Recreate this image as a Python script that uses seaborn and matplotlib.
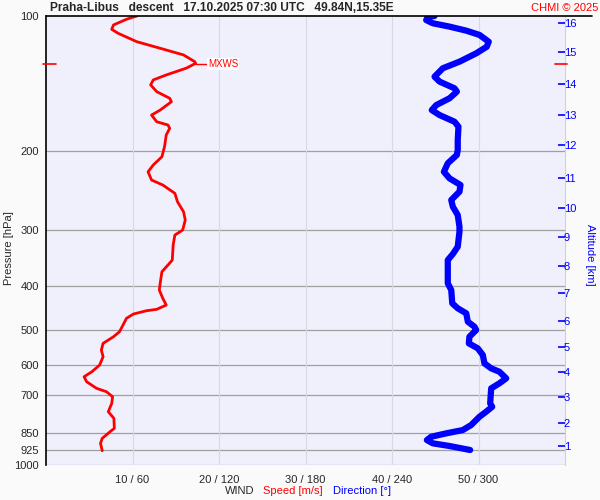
import numpy as np
import pandas as pd
import matplotlib
matplotlib.use("Agg")
import matplotlib.pyplot as plt
from matplotlib.lines import Line2D
from matplotlib.ticker import FixedLocator, FixedFormatter, NullLocator
import seaborn as sns

# datos del sondeo
speed_p = [100, 101.7, 104.7, 107.1, 109.3, 114.1, 118.0, 122.1, 126.4, 127.5,
           130.7, 135.3, 138.8, 142.4, 147.4, 152.5, 155.2, 162.0, 166.2, 172.0,
           174.9, 177.9, 184.1, 195.5, 205.8, 214.7, 222.3, 231.9, 237.9, 248.3,
           259.2, 272.9, 284.7, 299.7, 307.5, 323.6, 349.6, 358.6, 371.2, 393.9,
           407.7, 425.4, 440.3, 450.1, 453.4, 461.1, 471.4, 487.9, 504.9, 518.0,
           535.9, 554.6, 574.0, 598.9, 619.9, 636.0, 652.5, 675.0, 686.9, 704.7,
           729.0, 761.0, 787.2, 828.6, 843.2, 872.3, 894.9, 929.3]
speed = [10.5, 9.3, 7.8, 7.6, 8.35, 10.5, 13.2, 15.9, 17.2, 17.3,
         16.2, 13.9, 12.4, 12.1, 12.8, 14.3, 14.5, 13.2, 12.2, 12.8,
         14.1, 14.3, 13.9, 13.7, 13.4, 12.4, 11.8, 12.2, 13.5, 14.9,
         15.2, 15.9, 16.1, 15.8, 14.9, 14.7, 14.6, 14.1, 13.4, 13.2,
         13.1, 13.5, 13.9, 12.8, 11.6, 10.1, 9.3, 8.9, 8.5, 7.8,
         6.6, 6.4, 6.6, 6.2, 5.3, 4.4, 4.7, 5.85, 7.0, 7.7,
         7.6, 7.2, 7.85, 7.9, 7.4, 6.5, 6.3, 6.5]

dir_p = [100, 100.4, 102.1, 103.8, 105.6, 107.8, 110.2, 114.1, 117.1, 121.1,
         126.4, 130.7, 136.5, 140.0, 144.9, 147.4, 152.5, 157.9, 162.0, 166.2,
         172.0, 176.4, 188.9, 198.8, 203.9, 212.8, 222.3, 229.9, 237.9, 246.2,
         256.9, 265.9, 277.5, 294.6, 302.4, 326.4, 338.9, 349.6, 393.9, 407.7,
         436.4, 447.7, 459.4, 479.6, 492.1, 500.5, 518.0, 535.9, 549.8, 569.0,
         593.7, 609.3, 619.9, 641.2, 657.8, 675.0, 729.0, 741.8, 761.0, 780.6,
         814.7, 835.9, 850.2, 865.1, 879.9, 894.9, 907.2, 926.0]
direction = [269.5, 264.9, 263.7, 268.3, 279.9, 291.5, 300.7, 307.1, 305.7, 298.4,
             286.8, 275.3, 269.5, 273.0, 283.4, 285.0, 279.9, 270.7, 267.6, 273.0,
             283.4, 286.1, 285.6, 285.6, 285.0, 278.7, 276.0, 279.9, 287.5, 286.8,
             281.1, 282.2, 285.6, 286.8, 286.8, 285.6, 282.2, 278.7, 278.7, 281.1,
             281.8, 285.6, 291.5, 292.6, 297.2, 298.4, 293.7, 293.3, 299.5, 303.0,
             304.1, 308.8, 314.5, 319.2, 314.5, 308.8, 308.1, 309.5, 305.3, 300.7,
             294.9, 289.1, 277.6, 267.2, 264.2, 268.3, 279.9, 294.2]

p_ticks = [100, 200, 300, 400, 500, 600, 700, 850, 925, 1000]
spd_ticks = [10, 20, 30, 40, 50]
spd_labels = ["10 / 60", "20 / 120", "30 / 180", "40 / 240", "50 / 300"]
alt_km = list(range(1, 17))
alt_p = [907, 805, 704.6, 621.7, 546.9, 477.1, 414.6, 359.8, 311.1, 267.7,
         229.2, 194.1, 166.2, 141.9, 120.5, 103.5]
mxws_p = 128
mxws_speed = 17.3

df_spd = pd.DataFrame({"p": speed_p, "v": speed})
df_dir = pd.DataFrame({"p": dir_p, "d": direction})

sns.set_style("white")
plt.rcParams["font.family"] = ["Liberation Sans", "DejaVu Sans"]

fig = plt.figure(figsize=(6, 5), dpi=100, facecolor="#fafafa")
ax = fig.add_axes([46 / 600, 1 - 465 / 500, 519 / 600, 449 / 500])
ax.set_facecolor("#f0f0fd")
ax.set_yscale("log")

# velocidad
sns.lineplot(data=df_spd, x="v", y="p", sort=False, estimator=None,
             color="red", lw=2.0, ax=ax, zorder=3)

# direccion (eje superior oculto 0-360)
axd = ax.twiny()
sns.lineplot(data=df_dir, x="d", y="p", sort=False, estimator=None,
             color="blue", lw=4.5, ax=axd, zorder=3)

# altitud
axa = ax.twinx()
axa.set_yscale("log")

# limites y ticks despues de dibujar
ax.set_xlim(0, 60)
axd.set_xlim(0, 360)
ax.set_ylim(1000, 100)
axa.set_ylim(1000, 100)

ax.yaxis.set_major_locator(FixedLocator(p_ticks))
ax.yaxis.set_major_formatter(FixedFormatter([str(p) for p in p_ticks]))
ax.yaxis.set_minor_locator(NullLocator())
ax.set_xticks(spd_ticks)
ax.set_xticklabels(spd_labels)
ax.tick_params(axis="both", length=0, labelsize=8)
ax.tick_params(axis="y", pad=5)
ax.tick_params(axis="x", pad=7)
ax.set_ylabel("")
ax.set_xlabel("")
for side in ["top", "bottom"]:
    ax.spines[side].set_visible(False)
ax.spines["left"].set_color("black")
ax.spines["left"].set_linewidth(1.2)
ax.spines["right"].set_color("#d0d0d8")

axd.set_xticks([])
axd.set_xlabel("")
axd.set_ylabel("")
for sp in axd.spines.values():
    sp.set_visible(False)

axa.yaxis.set_major_locator(FixedLocator(alt_p))
axa.yaxis.set_major_formatter(FixedFormatter([str(k) for k in alt_km]))
axa.yaxis.set_minor_locator(NullLocator())
axa.tick_params(axis="y", direction="in", length=5, color="blue", width=1.2,
                pad=-1, labelsize=8, labelcolor="blue")
axa.set_ylabel("")
for sp in axa.spines.values():
    sp.set_visible(False)

# rejilla
for p in p_ticks[1:]:
    ax.axhline(p, color="#a0a0a0", lw=0.9, zorder=1)
for s in spd_ticks:
    ax.axvline(s, color="#d8d8e0", lw=0.8, zorder=1)

# MXWS
ax.plot([mxws_speed, mxws_speed + 1.2], [mxws_p, mxws_p], color="red", lw=1, zorder=4)
ax.text(mxws_speed + 1.4, mxws_p, "MXWS", color="red", fontsize=7, va="center",
        bbox=dict(facecolor="white", edgecolor="none", pad=0.5), zorder=4)
ax.plot([-0.35, 1.1], [mxws_p, mxws_p], color="red", lw=1.2, clip_on=False, zorder=5)
ax.plot([58.9, 60.2], [mxws_p, mxws_p], color="red", lw=1.2, clip_on=False, zorder=5)

# titulo y textos
fig.text(50 / 600, 1 - 8 / 500, "Praha-Libus   descent   17.10.2025 07:30 UTC   49.84N,15.35E",
         fontsize=8.6, fontweight="bold", va="center", ha="left")
fig.text(598 / 600, 1 - 8 / 500, "CHMI © 2025", color="red", fontsize=8, va="center", ha="right")
fig.add_artist(Line2D([46 / 600, 592 / 600], [1 - 16 / 500, 1 - 16 / 500],
                      color="black", lw=1.2, transform=fig.transFigure))
fig.text(9 / 600, 1 - 248 / 500, "Pressure [hPa]", fontsize=8, rotation=90,
         va="center", ha="center")
fig.text(590 / 600, 1 - 255 / 500, "Altitude [km]", fontsize=8, color="blue", rotation=270,
         va="center", ha="center")
fig.text(225 / 600, 1 - 491 / 500, "WIND", fontsize=8, va="center", ha="left")
fig.text(263 / 600, 1 - 491 / 500, "Speed [m/s]", fontsize=8, color="red", va="center", ha="left")
fig.text(333 / 600, 1 - 491 / 500, "Direction [°]", fontsize=8, color="blue", va="center", ha="left")

fig.savefig("out.png", dpi=100, facecolor=fig.get_facecolor())
